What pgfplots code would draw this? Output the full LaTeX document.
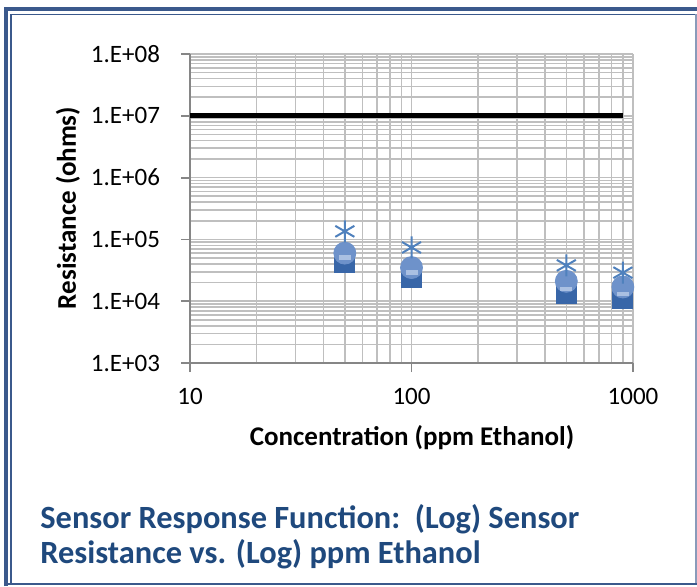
\documentclass[border=0pt]{standalone}
\usepackage{pgfplots}
\pgfplotsset{compat=1.18}
\usepackage{fontspec}
\setmainfont{Carlito}
\definecolor{framec}{RGB}{59,89,140}
\definecolor{titlec}{RGB}{31,73,125}
\definecolor{gridc}{RGB}{191,191,191}
\definecolor{axisc}{RGB}{134,134,134}
\definecolor{sqc}{RGB}{56,102,168}
\definecolor{circc}{RGB}{110,146,202}
\definecolor{dashc}{RGB}{170,192,226}
\definecolor{starc}{RGB}{79,129,189}

\begin{document}
\begin{tikzpicture}[x=0.5pt,y=-0.5pt]
\useasboundingbox (0,0) rectangle (697,586);
% frame
\fill[white] (0,0) rectangle (697,586);
\draw[framec, line width=2.2pt] (6,586) -- (6,9) -- (697,9);
\draw[framec, line width=0.8pt] (11,583) -- (11,14.5) -- (697,14.5);
\draw[framec!60, line width=0.8pt] (696,14) -- (696,583);
\draw[framec, line width=1pt] (6,583.5) -- (697,583.5);
\coordinate (o) at (190,363);

\begin{axis}[
    at={(o)}, anchor=south west,
    scale only axis,
    width=221.5pt, height=154.5pt,
    xmode=log, ymode=log,
    xmin=10, xmax=1000,
    ymin=1e3, ymax=1e8,
    xtick={10,100,1000},
    xticklabels={10,100,1000},
    ytick={1e3,1e4,1e5,1e6,1e7,1e8},
    yticklabels={1.E+03,1.E+04,1.E+05,1.E+06,1.E+07,1.E+08},
    grid=both,
    major grid style={gridc, line width=0.8pt},
    minor grid style={gridc, line width=0.8pt},
    axis lines=left,
    axis line style={-, axisc, line width=0.9pt},
    tick style={axisc, line width=0.9pt},
    tick align=outside,
    major tick length=4.5pt,
    minor tick length=0pt,
    ticklabel style={font=\fontsize{12.5}{15}\selectfont},
    yticklabel style={xshift=-7pt},
    xticklabel style={yshift=-4.5pt},
    clip=false,
]
\addplot[black, line width=2.6pt] coordinates {(10,1e7) (900,1e7)};

\addplot[only marks, mark=square*, mark size=5pt, mark options={fill=sqc, draw=sqc}]
  coordinates {(50,42000) (100,24000) (500,13500) (900,11000)};
\addplot[only marks, mark=*, mark size=5.5pt, mark options={fill=circc, draw=circc}]
  coordinates {(50,60000) (100,35000) (500,21000) (900,17000)};
\addplot[only marks, mark=-, mark size=3pt, mark options={draw=dashc, line width=2.2pt}]
  coordinates {(50,51000) (100,29000) (500,15600) (900,13000)};
\addplot[only marks, mark=asterisk, mark size=5.5pt, mark options={draw=starc, line width=1pt}]
  coordinates {(50,135000) (100,74000) (500,38000) (900,29000)};
\end{axis}

\node[font=\fontsize{13.5}{16}\selectfont\bfseries, inner sep=0pt] at (412,438) {Concentration (ppm Ethanol)};
\node[rotate=90, font=\fontsize{13.5}{16}\selectfont\bfseries, inner sep=0pt] at (68,208) {Resistance (ohms)};

\node[anchor=base west, text=titlec, font=\fontsize{16.2}{19}\selectfont\bfseries, inner sep=0pt] at (40,528) {Sensor Response Function:\ \ (Log) Sensor};
\node[anchor=base west, text=titlec, font=\fontsize{16.2}{19}\selectfont\bfseries, inner sep=0pt] at (40,563) {Resistance vs. (Log) ppm Ethanol};
\end{tikzpicture}
\end{document}
